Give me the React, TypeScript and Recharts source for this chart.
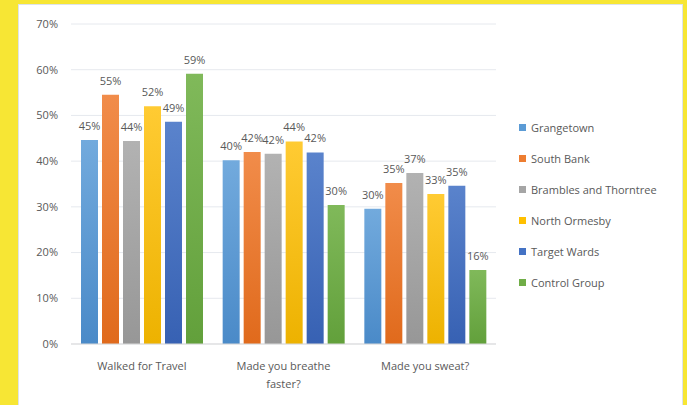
import { BarChart, Bar, XAxis, YAxis, CartesianGrid, Legend, LabelList } from "recharts";

const categories = ["Walked for Travel", "Made you breathe faster?", "Made you sweat?"];
const seriesNames = ["Grangetown", "South Bank", "Brambles and Thorntree", "North Ormesby", "Target Wards", "Control Group"];
const grangetown = [44.6, 40.2, 29.6];
const southBank = [54.5, 42.0, 35.2];
const brambles = [44.4, 41.6, 37.4];
const northOrmesby = [52.0, 44.3, 32.8];
const targetWards = [48.6, 41.9, 34.6];
const controlGroup = [59.1, 30.4, 16.2];
const yTicks = [0, 10, 20, 30, 40, 50, 60, 70];

const colors = ["#5B9BD5", "#ED7D31", "#A5A5A5", "#FFC000", "#4472C4", "#70AD47"];
const topColors = ["#72AADD", "#F18C4A", "#B2B2B2", "#FFCB33", "#5A83CC", "#80B95A"];
const bottomColors = ["#4A8AC8", "#E06A1C", "#979797", "#EDB200", "#3761B3", "#62A03B"];

const seriesValues = [grangetown, southBank, brambles, northOrmesby, targetWards, controlGroup];
const keys = ["s0", "s1", "s2", "s3", "s4", "s5"];

const data = categories.map((name, i) => {
  const row: Record<string, string | number> = { name };
  seriesValues.forEach((vals, s) => { row[keys[s]] = vals[i]; });
  return row;
});

const FONT = "'Open Sans', sans-serif";

// wrap category names at ~17 characters, like the original
function wrap(s: string, max = 17) {
  const lines: string[] = [];
  let cur = "";
  s.split(" ").forEach((w) => {
    if (cur && (cur + " " + w).length > max) { lines.push(cur); cur = w; }
    else cur = cur ? cur + " " + w : w;
  });
  if (cur) lines.push(cur);
  return lines;
}

const XTick = (props: any) => {
  const { x, y, payload } = props;
  return (
    <text x={x} y={y + 18} textAnchor="middle" fill="#595959" fontSize={11} fontFamily={FONT}>
      {wrap(payload.value).map((l, i) => (
        <tspan key={i} x={x} dy={i === 0 ? 0 : 18}>{l}</tspan>
      ))}
    </text>
  );
};

const LegendContent = () => (
  <div style={{ fontFamily: FONT, fontSize: 11, color: "#595959" }}>
    {seriesNames.map((n, i) => (
      <div key={n} style={{ display: "flex", alignItems: "center", height: 31 }}>
        <span style={{ width: 7, height: 7, background: colors[i], marginRight: 5, display: "inline-block" }} />
        {n}
      </div>
    ))}
  </div>
);

export default function App() {
  return (
    <div style={{ position: "fixed", left: 0, top: 0, width: 687, height: 405, background: "#F7E634" }}>
      <div style={{ position: "absolute", left: 18, top: 4, width: 663, height: 401, background: "#fff", borderLeft: "1px solid #DDE3EA", borderTop: "1px solid #DDE3EA", borderRight: "1px solid #DDE3EA" }} />
      <div style={{ position: "absolute", left: 0, top: 0 }}>
        <BarChart width={687} height={405} data={data}
          margin={{ top: 24, right: 191, bottom: 31, left: 0 }}
          barCategoryGap={10} barGap={4}>
          <defs>
            {colors.map((c, i) => (
              <linearGradient key={c} id={`g${i}`} x1="0" y1="0" x2="0" y2="1">
                <stop offset="0%" stopColor={topColors[i]} />
                <stop offset="100%" stopColor={bottomColors[i]} />
              </linearGradient>
            ))}
          </defs>
          <CartesianGrid vertical={false} stroke="#E6E9EE" />
          <XAxis dataKey="name" height={30} tick={<XTick />} axisLine={{ stroke: "#D9D9D9" }} tickLine={false} interval={0} />
          <YAxis width={71} domain={[0, 70]} ticks={yTicks} tickFormatter={(v) => `${v}%`}
            axisLine={false} tickLine={false} tickMargin={7}
            tick={{ fill: "#595959", fontSize: 11, fontFamily: FONT }} />
          <Legend layout="vertical" align="center" verticalAlign="middle" content={<LegendContent />}
            wrapperStyle={{ left: 519, top: 112, width: 160 }} />
          {keys.map((k, i) => (
            <Bar key={k} dataKey={k} name={seriesNames[i]} fill={`url(#g${i})`} isAnimationActive={false}>
              <LabelList dataKey={k} position="top" offset={10} fill="#595959" fontSize={11} fontFamily={FONT}
                formatter={(v: any) => `${Math.round(Number(v))}%`} />
            </Bar>
          ))}
        </BarChart>
      </div>
    </div>
  );
}
